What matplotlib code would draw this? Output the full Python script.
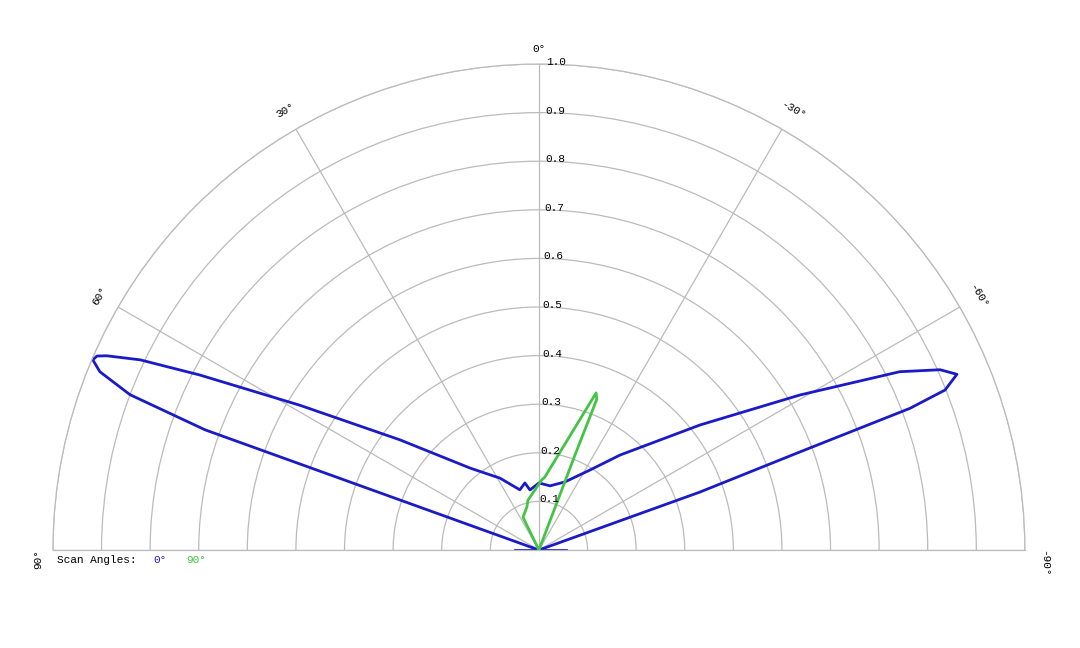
import numpy as np
import matplotlib
matplotlib.use("Agg")
import matplotlib.pyplot as plt

plt.rcParams['font.family'] = ['Liberation Mono', 'DejaVu Sans']

# Blue (scan angle 0°) pattern: angle in degrees (positive = left), normalized amplitude
blue_ang = [0, 70.2, 70.2, 69.2, 67.9, 66.9, 66.3, 65.8, 64.5, 62.7, 58.8, 51.6, 40.0, 28.4,
            17.6, 11.8, 8.5, 0.0, -9.8, -20.9, -32.5, -40.5, -52.2, -59.3, -63.7, -65.8,
            -67.2, -68.5, -69.1, -69.4, -70.2, -70.2, 0]
blue_r = [0, 0.304, 0.73, 0.90, 0.975, 0.998, 0.993, 0.975, 0.909, 0.785, 0.575, 0.365, 0.22, 0.168,
          0.13, 0.141, 0.125, 0.138, 0.134, 0.15, 0.195, 0.257, 0.42, 0.625, 0.828, 0.905,
          0.933, 0.898, 0.817, 0.574, 0.352, 0.133, 0]
blue_base_ang = [90, 90, -90]
blue_base_r = [0.05, 0, 0.055]

# Green (scan angle 90°) pattern
green_ang = [0, 25.9, 15.6, 12.4, -2.2, -4.7, -20.0, -21.0, -20.8, 0]
green_r = [0, 0.075, 0.092, 0.105, 0.144, 0.151, 0.344, 0.332, 0.209, 0]

r_ticks = [0.1, 0.2, 0.3, 0.4, 0.5, 0.6, 0.7, 0.8, 0.9, 1.0]
ang_ticks = [90, 60, 30, 0, -30, -60, -90]

fig = plt.figure(figsize=(10.8, 6.48), dpi=100)
ax = fig.add_axes([0.049, -0.2238, 0.9, 1.5], projection='polar')
ax.set_theta_zero_location('N')
ax.set_theta_direction(1)
ax.set_thetamin(-90)
ax.set_thetamax(90)
ax.set_ylim(0, 1.0)
ax.set_rticks(r_ticks)
ax.set_thetagrids(ang_ticks)
ax.set_xticklabels([])
ax.set_yticklabels([])
ax.grid(color='#bbbbbb', linewidth=0.9)
for s in ax.spines.values():
    s.set_color('#bbbbbb')
    s.set_linewidth(0.9)

blue = '#1a1ac8'
green = '#44c444'
ax.plot(np.radians(blue_ang), blue_r, color=blue, lw=2)
ax.plot(np.radians(blue_base_ang), blue_base_r, color=blue, lw=2)
ax.plot(np.radians(green_ang), green_r, color=green, lw=2)

for r in r_ticks:
    ax.text(np.radians(-0.9), r - 0.006, f"{r:.1f}", fontsize=8, ha='left', va='bottom')
ax.text(0, 1.02, "0°", fontsize=8, ha='center', va='bottom')
for a in [30, 60, -30, -60]:
    ax.text(np.radians(a), 1.045, f"{a}°", fontsize=8, ha='center', va='center', rotation=a,
            rotation_mode='anchor')
ax.text(np.radians(91), 1.03, "90°", fontsize=8, ha='center', va='center', rotation=90)
ax.text(np.radians(-91.5), 1.04, "-90°", fontsize=8, ha='center', va='center', rotation=-90)

ty = 1 - 560 / 648
fig.text(57 / 1080, ty, "Scan Angles:", fontsize=8, va='center')
fig.text(153 / 1080, ty, "0°", fontsize=8, va='center', color=blue)
fig.text(186 / 1080, ty, "90°", fontsize=8, va='center', color=green)

fig.savefig("out.png", dpi=100)
